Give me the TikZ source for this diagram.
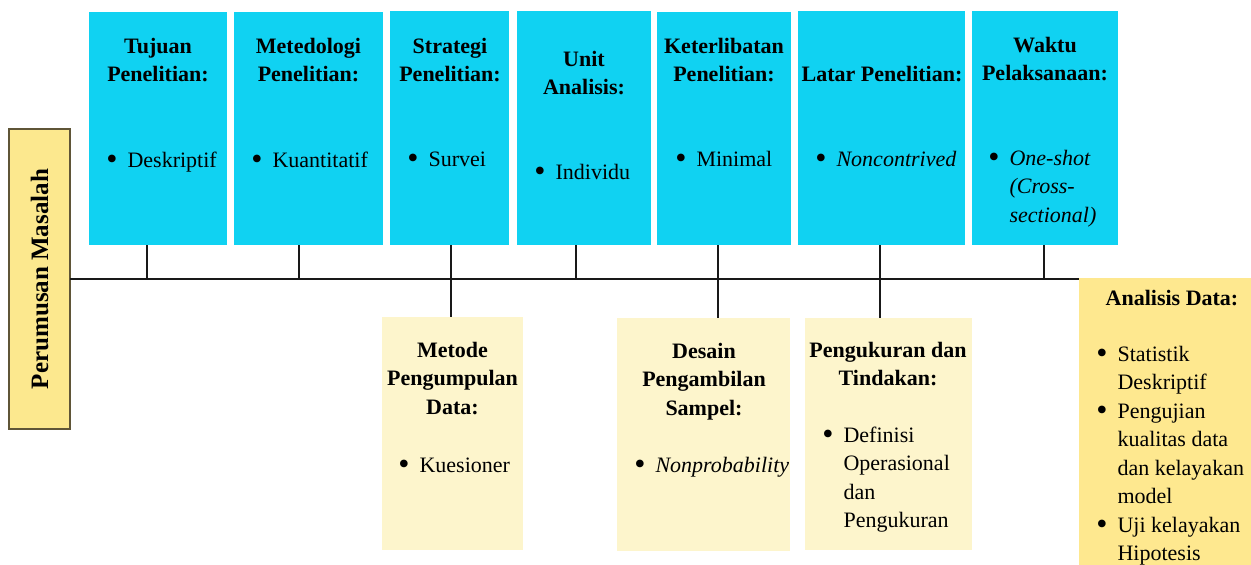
\documentclass[tikz,border=0pt]{standalone}
\usepackage{fontspec}
\setmainfont{Liberation Serif}
\definecolor{cyanbox}{RGB}{16,210,242}
\definecolor{lightyel}{RGB}{253,245,204}
\definecolor{goldyel}{RGB}{254,232,143}
\definecolor{pmyel}{RGB}{252,232,142}
\definecolor{pmborder}{RGB}{95,85,55}
\definecolor{linecol}{RGB}{25,25,25}
\newcommand{\ttlines}[1]{\begin{tabular}[t]{@{}c@{}}#1\end{tabular}}
\newcommand{\bitems}[1]{\begin{tabular}[t]{@{}l@{\hspace{10pt}}l@{}}#1\end{tabular}}
\newcommand{\bdot}{\raisebox{-2pt}{\scalebox{1.45}{\textbullet}}}
\tikzset{
  boxbase/.style={draw=none, inner sep=0pt, outer sep=0pt, anchor=north west},
  cbox/.style={boxbase, fill=cyanbox},
  ybox/.style={boxbase, fill=lightyel},
  gbox/.style={boxbase, fill=goldyel},
  pmbox/.style={boxbase, fill=pmyel, draw=pmborder, line width=1.5pt},
  ttl/.style={font=\fontsize{22}{28.5}\selectfont\bfseries, inner sep=0pt, anchor=base},
  lst/.style={font=\fontsize{22}{28.5}\selectfont, inner sep=0pt, anchor=base west},
  conn/.style={line width=2pt, draw=linecol}
}
\begin{document}
\begin{tikzpicture}[x=1pt, y=-1pt]
\useasboundingbox (0,0) rectangle (1251,565);
% top boxes
\node[cbox, minimum width=138pt, minimum height=233pt] (t1) at (89,12) {};
\node[cbox, minimum width=149pt, minimum height=233pt] (t2) at (234,12) {};
\node[cbox, minimum width=119pt, minimum height=234pt] (t3) at (390,11) {};
\node[cbox, minimum width=134pt, minimum height=234pt] (t4) at (517,11) {};
\node[cbox, minimum width=134pt, minimum height=233pt] (t5) at (657,12) {};
\node[cbox, minimum width=167pt, minimum height=234pt] (t6) at (798,11) {};
\node[cbox, minimum width=146pt, minimum height=234pt] (t7) at (972,11) {};
% bottom boxes
\node[ybox, minimum width=141pt, minimum height=233pt] (mp) at (382,317) {};
\node[ybox, minimum width=173pt, minimum height=233pt] (ds) at (617,318) {};
\node[ybox, minimum width=167pt, minimum height=232pt] (pk) at (805,318) {};
\node[gbox, minimum width=172pt, minimum height=287pt] (ad) at (1079,278) {};
% left box
\node[pmbox, minimum width=61pt, minimum height=300pt] (pm) at (9,129) {};
\node[font=\fontsize{25}{28}\selectfont\bfseries, rotate=90, inner sep=0pt] (pmt) at (pm.center) {Perumusan Masalah};

% titles
\node[ttl] (tt1) at (158,53) {\ttlines{Tujuan\\Penelitian:}};
\node[ttl] (tt2) at (308.5,53) {\ttlines{Metedologi\\Penelitian:}};
\node[ttl] (tt3) at (450,53) {\ttlines{Strategi\\Penelitian:}};
\node[ttl] (tt4) at (584,66) {\ttlines{Unit\\Analisis:}};
\node[ttl] (tt5) at (724,53) {\ttlines{Keterlibatan\\Penelitian:}};
\node[ttl] (tt6) at (882,81) {\ttlines{Latar Penelitian:}};
\node[ttl] (tt7) at (1045,52) {\ttlines{Waktu\\Pelaksanaan:}};
\node[ttl] (tmp) at (452.5,357) {\ttlines{Metode\\Pengumpulan\\Data:}};
\node[ttl] (tds) at (704,358) {\ttlines{Desain\\Pengambilan\\Sampel:}};
\node[ttl] (tpk) at (888,357) {\ttlines{Pengukuran dan\\Tindakan:}};
\node[ttl] (tad) at (1172,305) {\ttlines{Analisis Data:}};

% bullet lists
\node[lst] (l1) at (106.2,167) {\bitems{\bdot & Deskriptif}};
\node[lst] (l2) at (251.2,167) {\bitems{\bdot & Kuantitatif}};
\node[lst] (l3) at (407.2,166) {\bitems{\bdot & Survei}};
\node[lst] (l4) at (534.2,179) {\bitems{\bdot & Individu}};
\node[lst] (l5) at (675.2,166) {\bitems{\bdot & Minimal}};
\node[lst] (l6) at (815.2,166) {\bitems{\bdot & \textit{Noncontrived}}};
\node[lst] (l7) at (988.2,165) {\bitems{\bdot & \textit{One-shot}\\ & \textit{(Cross-}\\ & \textit{sectional)}}};
\node[lst] (lmp) at (398.2,472) {\bitems{\bdot & Kuesioner}};
\node[lst] (lds) at (634.2,472) {\bitems{\bdot & \textit{Nonprobability}}};
\node[lst] (lpk) at (822.2,442) {\bitems{\bdot & Definisi\\ & Operasional\\ & dan\\ & Pengukuran}};
\node[lst] (lad) at (1096.2,361) {\bitems{\bdot & Statistik\\ & Deskriptif\\ \bdot & Pengujian\\ & kualitas data\\ & dan kelayakan\\ & model\\ \bdot & Uji kelayakan\\ & Hipotesis}};

% spine and stubs
\coordinate (k1) at (147,279);
\coordinate (k2) at (299,279);
\coordinate (k3) at (451,279);
\coordinate (k4) at (576,279);
\coordinate (k5) at (718,279);
\coordinate (k6) at (880,279);
\coordinate (k7) at (1044,279);
\draw[conn] (pm.east) -- (pm.east -| ad.west);
\draw[conn] (k1 |- t1.south) -- (k1);
\draw[conn] (k2 |- t2.south) -- (k2);
\draw[conn] (k3 |- t3.south) -- (k3 |- mp.north);
\draw[conn] (k4 |- t4.south) -- (k4);
\draw[conn] (k5 |- t5.south) -- (k5 |- ds.north);
\draw[conn] (k6 |- t6.south) -- (k6 |- pk.north);
\draw[conn] (k7 |- t7.south) -- (k7);
\end{tikzpicture}
\end{document}
